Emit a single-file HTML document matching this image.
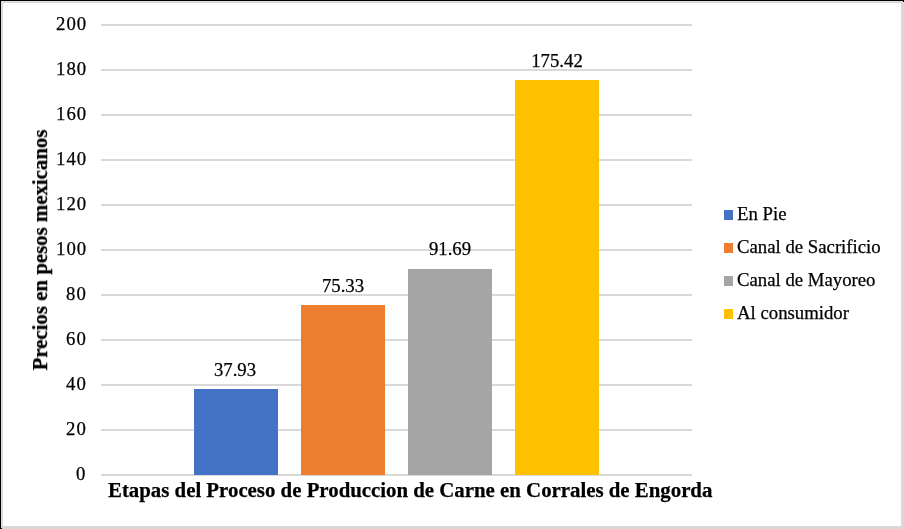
<!DOCTYPE html>
<html><head><meta charset="utf-8">
<style>
html,body{margin:0;padding:0;}
body{width:904px;height:529px;position:relative;overflow:hidden;background:#d9d9d9;font-family:"Liberation Serif",serif;color:#000;}
.a{position:absolute;}
.t{position:absolute;white-space:nowrap;line-height:1;}
.t,.yl,.dl,.lg{will-change:transform;-webkit-text-stroke:0.25px #000;}
.g{position:absolute;left:101px;width:591px;height:2px;background:#d9d9d9;}
.yl{position:absolute;right:817px;letter-spacing:1px;font-size:18.75px;line-height:1;white-space:nowrap;text-align:right;}
.dl{position:absolute;font-size:18.75px;line-height:1;white-space:nowrap;text-align:center;width:120px;}
.lg{position:absolute;left:737px;font-size:18.75px;line-height:1;white-space:nowrap;}
.sq{position:absolute;left:724px;width:9px;height:10px;}
</style></head><body>
<div class="a" style="left:0;top:0;width:904px;height:1px;background:#000"></div>
<div class="a" style="left:0;top:0;width:1px;height:529px;background:#000"></div>
<div class="a" style="left:1px;top:1px;width:900px;height:1px;background:#e0e0e0"></div>
<div class="a" style="left:1px;top:1px;width:1px;height:525px;background:#e0e0e0"></div>
<div class="a" style="left:2px;top:2px;width:899px;height:524px;background:#fff;border-top:1px solid #d9d9d9;border-left:1px solid #d9d9d9;box-sizing:border-box"></div>
<div class="a" style="left:903px;top:0;width:1px;height:2px;background:#000"></div>
<div class="a" style="left:0;top:528px;width:2px;height:1px;background:#000"></div>

<div class="g" style="top:24px"></div>
<div class="g" style="top:69px"></div>
<div class="g" style="top:114px"></div>
<div class="g" style="top:159px"></div>
<div class="g" style="top:204px"></div>
<div class="g" style="top:249px"></div>
<div class="g" style="top:294px"></div>
<div class="g" style="top:339px"></div>
<div class="g" style="top:384px"></div>
<div class="g" style="top:429px"></div>
<div class="g" style="top:474px"></div>

<div class="yl" style="top:15px">200</div>
<div class="yl" style="top:60px">180</div>
<div class="yl" style="top:105px">160</div>
<div class="yl" style="top:150px">140</div>
<div class="yl" style="top:195px">120</div>
<div class="yl" style="top:240px">100</div>
<div class="yl" style="top:285px">80</div>
<div class="yl" style="top:330px">60</div>
<div class="yl" style="top:375px">40</div>
<div class="yl" style="top:420px">20</div>
<div class="yl" style="top:465px;right:818px">0</div>

<div class="a" style="left:194px;top:389px;width:84px;height:86px;background:#4472c4"></div>
<div class="a" style="left:301px;top:305px;width:84px;height:170px;background:#ed7d31"></div>
<div class="a" style="left:408px;top:269px;width:84px;height:206px;background:#a5a5a5"></div>
<div class="a" style="left:515px;top:80px;width:84px;height:395px;background:#ffc000"></div>

<div class="dl" style="left:175px;top:361px">37.93</div>
<div class="dl" style="left:283px;top:277px">75.33</div>
<div class="dl" style="left:390px;top:240px">91.69</div>
<div class="dl" style="left:497px;top:52px">175.42</div>

<div class="sq" style="top:210px;background:#4472c4"></div>
<div class="sq" style="top:243px;background:#ed7d31"></div>
<div class="sq" style="top:276px;background:#a5a5a5"></div>
<div class="sq" style="top:309px;background:#ffc000"></div>
<div class="lg" style="top:205px">En Pie</div>
<div class="lg" style="top:238px">Canal de Sacrificio</div>
<div class="lg" style="top:271px">Canal de Mayoreo</div>
<div class="lg" style="top:304px">Al consumidor</div>

<div class="t" style="left:108px;top:480px;font-size:20.83px;font-weight:bold">Etapas del Proceso de Produccion de Carne en Corrales de Engorda</div>
<div class="t" style="left:30px;top:250px;font-size:20.83px;font-weight:bold;transform-origin:0 0;transform:rotate(-90deg) translate(-50%,0)">Precios en pesos mexicanos</div>
</body></html>
